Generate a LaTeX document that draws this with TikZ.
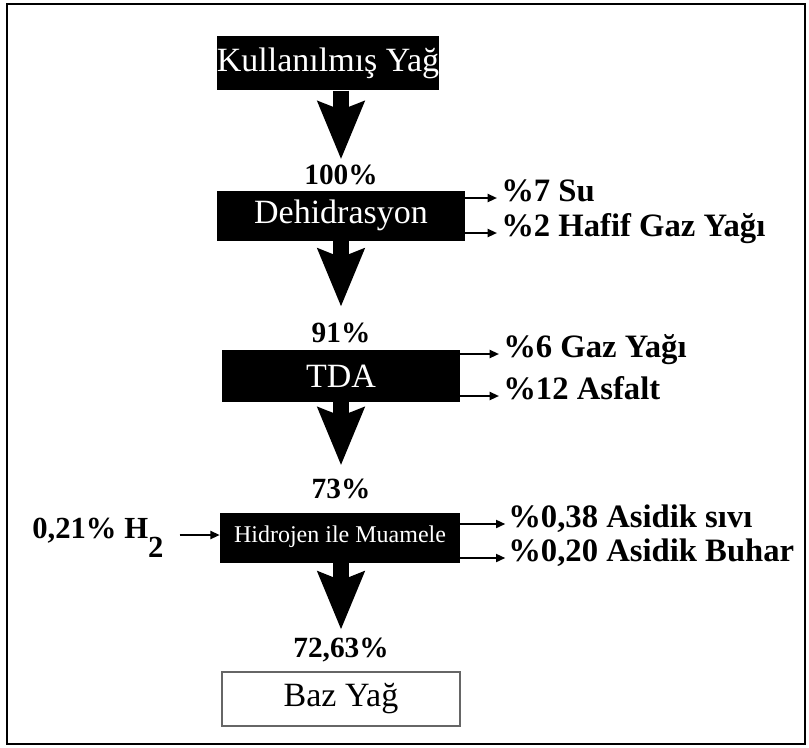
\documentclass[tikz,border=0pt]{standalone}
\usepackage{fontspec}
\setmainfont{Liberation Serif}
\usetikzlibrary{arrows.meta, positioning, calc}

\tikzset{
  procbox/.style={rectangle, fill=black, text=white, inner sep=0pt,
                  font=\fontsize{25.5}{28}\selectfont},
  pct/.style={font=\fontsize{22}{24}\selectfont\bfseries, inner sep=0pt},
  outlbl/.style={font=\fontsize{24.5}{27}\selectfont\bfseries, inner sep=0pt,
                 anchor=west, text height=0.62em, text depth=0.08em},
  sidearr/.style={line width=1.5pt, -{Triangle[length=7pt, width=6pt]}},
  bigarr/.style={line width=12pt, -{Stealth[length=43pt, width=34pt, inset=6pt]}},
}

\begin{document}
\begin{tikzpicture}[x=0.75pt, y=-0.75pt]
  \useasboundingbox (0,0) rectangle (809,747);
  \draw[line width=1.8pt] (7,4) rectangle (805,744);

  % process boxes
  \node[procbox, minimum width=167pt, minimum height=41pt] (kul) at (328,63) {Kullanılmış Yağ};
  \node[procbox, minimum width=186pt, minimum height=37.5pt] (deh) at (341,216)
    {\raisebox{6pt}{Dehidrasyon}\hspace{12pt}};
  \node[procbox, minimum width=178.5pt, minimum height=39pt] (tda) at (341,376) {TDA};
  \node[procbox, minimum width=180pt, minimum height=37.5pt, font=\fontsize{18}{20}\selectfont]
    (hid) at (340,538) {\raisebox{6pt}{Hidrojen ile Muamele}\hspace{15pt}};
  \node[rectangle, draw=black!60, line width=0.8pt, minimum width=178.5pt, minimum height=40.5pt,
        font=\fontsize{25.5}{28}\selectfont] (baz) at (341,699) {Baz Yağ};

  % yields
  \node[pct] (p100) at (341,175) {100\%};
  \node[pct] (p91) at (341,333) {91\%};
  \node[pct] (p73) at (341,489) {73\%};
  \node[pct] (p7263) at (341,650) {72,63\%};

  \draw[bigarr] (p100.north |- kul.south) -- ([yshift=4pt]p100.north);
  \draw[bigarr] (p91.north |- deh.south) -- ([yshift=12pt]p91.north);
  \draw[bigarr] (p73.north |- tda.south) -- ([yshift=10pt]p73.north);
  \draw[bigarr] (p7263.north |- hid.south) -- ([yshift=6pt]p7263.north);

  % side products
  \node[outlbl] (su) at (501,198) {\%7 Su};
  \node[outlbl] (hafif) at (501,233) {\%2 Hafif Gaz Yağı};
  \node[outlbl] (gaz) at (503,354) {\%6 Gaz Yağı};
  \node[outlbl] (asf) at (503,396) {\%12 Asfalt};
  \node[outlbl] (sivi) at (508,524) {\%0,38 Asidik sıvı};
  \node[outlbl] (buhar) at (508,558) {\%0,20 Asidik Buhar};

  \draw[sidearr] (deh.east |- su.west) -- ([xshift=-3pt]su.west);
  \draw[sidearr] (deh.east |- hafif.west) -- ([xshift=-3pt]hafif.west);
  \draw[sidearr] (tda.east |- gaz.west) -- ([xshift=-3pt]gaz.west);
  \draw[sidearr] (tda.east |- asf.west) -- ([xshift=-3pt]asf.west);
  \draw[sidearr] (hid.east |- sivi.west) -- ([xshift=-2pt]sivi.west);
  \draw[sidearr] (hid.east |- buhar.west) -- ([xshift=-2pt]buhar.west);

  % hydrogen feed
  \node[outlbl, font=\fontsize{23}{26}\selectfont\bfseries] (h2) at (32,535)
    {0,21\% H\smash{\raisebox{-0.6em}{2}}};
  \draw[sidearr] ([xshift=12pt]h2.east) -- (hid.west |- h2.east);
\end{tikzpicture}
\end{document}
